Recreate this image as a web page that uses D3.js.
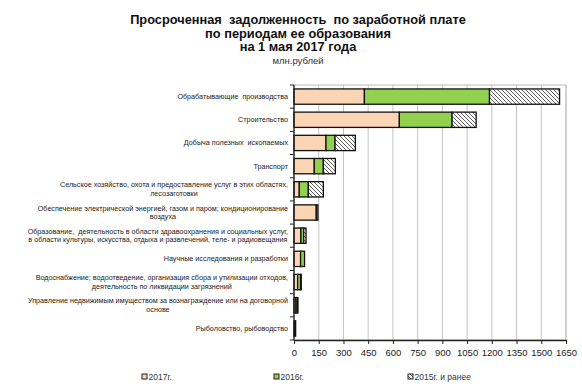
<!DOCTYPE html>
<html>
<head>
<meta charset="utf-8">
<script src="https://cdn.jsdelivr.net/npm/d3@7"></script>
<style>
  body { margin: 0; background: #fff; }
  svg { font-family: "Liberation Sans", Arial, sans-serif; }
  text { white-space: pre; }
</style>
</head>
<body>
<svg id="chart" width="582" height="390"></svg>
<script>
// categories, one entry per bar (lines split by "\n")
const categories = [
  "Обрабатывающие  производства",
  "Строительство",
  "Добыча полезных  ископаемых",
  "Транспорт",
  "Сельское хозяйство, охота и предоставление услуг в этих областях,\nлесозаготовки",
  "Обеспечение электрической энергией, газом и паром; кондиционирование\nвоздуха",
  "Образование,  деятельность в области здравоохранения и социальных услуг,\nв области культуры, искусства, отдыха и развлечений, теле- и радиовещания",
  "Научные исследования и разработки",
  "Водоснабжение; водоотведение, организация сбора и утилизации отходов,\nдеятельность по ликвидации загрязнений",
  "Управление недвижимым имуществом за вознаграждение или на договорной\nоснове",
  "Рыболовство, рыбоводство"
];

const v2017 = [427, 639, 194, 123, 32, 135, 42, 40, 22, 12, 6];
const v2016 = [759, 320, 55, 55, 55, 10, 17, 24, 18, 8, 4];
const v2015 = [425, 146, 123, 73, 91, 0, 14, 0, 4, 4, 0];

const seriesNames = ["2017г.", "2016г.", "2015г. и ранее"];
const xTicks = d3.range(0, 1651, 150);

const svg = d3.select("#chart");
const M = { left: 294, right: 566, top: 85, bottom: 340 };

// pattern for the hatched series
const defs = svg.append("defs");
const pat = defs.append("pattern")
  .attr("id", "hatch")
  .attr("patternUnits", "userSpaceOnUse")
  .attr("width", 4).attr("height", 4);
pat.append("rect").attr("width", 4).attr("height", 4).attr("fill", "#fff");
pat.append("path")
  .attr("d", "M-1,-1 L5,5 M-1,3 L1,5 M3,-1 L5,1")
  .attr("stroke", "#333").attr("stroke-width", 0.8);

const fills = ["#FCD5B5", "#92D050", "url(#hatch)"];

const x = d3.scaleLinear().domain([0, 1650]).range([M.left, M.right]);
const y = d3.scaleBand().domain(d3.range(categories.length))
  .range([M.top, M.bottom]).paddingInner(0.34).paddingOuter(0.17);

// title
const title = svg.append("text").attr("text-anchor", "middle")
  .attr("font-weight", "bold").attr("font-size", 12.8).attr("fill", "#111");
["Просроченная  задолженность  по заработной плате",
 "по периодам ее образования",
 "на 1 мая 2017 года"].forEach((t, i) => {
  title.append("tspan").attr("x", 298).attr("y", 24 + i * 13.5).text(t);
});
svg.append("text").attr("x", 298).attr("y", 64)
  .attr("text-anchor", "middle").attr("font-size", 9.5).attr("fill", "#333")
  .text("млн.рублей");

// plot border + grid
svg.append("rect").attr("x", M.left).attr("y", M.top)
  .attr("width", M.right - M.left).attr("height", M.bottom - M.top)
  .attr("fill", "none").attr("stroke", "#bbb");
svg.append("g").selectAll("line").data(xTicks.slice(1))
  .join("line")
  .attr("x1", d => x(d)).attr("x2", d => x(d))
  .attr("y1", M.top).attr("y2", M.bottom)
  .attr("stroke", "#c4c4c4").attr("stroke-width", 1);

// stacked bars
const rows = categories.map((c, i) => ({ i, vals: [v2017[i], v2016[i], v2015[i]] }));
const stack = d3.stack().keys([0, 1, 2]).value((d, k) => d.vals[k]);
const layers = stack(rows);

svg.append("g").selectAll("g").data(layers).join("g")
  .attr("fill", (d, k) => fills[k])
  .selectAll("rect").data(d => d.filter(s => s[1] > s[0]))
  .join("rect")
  .attr("x", d => x(d[0]))
  .attr("y", d => y(d.data.i))
  .attr("width", d => x(d[1]) - x(d[0]))
  .attr("height", y.bandwidth())
  .attr("stroke", "#111").attr("stroke-width", 1.3);

// x axis
const xAxis = svg.append("g")
  .attr("transform", `translate(0,${M.bottom})`)
  .call(d3.axisBottom(x).tickValues(xTicks).tickSize(4).tickSizeOuter(0).tickFormat(d3.format("d")));
xAxis.select(".domain").attr("stroke", "#222").attr("stroke-width", 1.3);
xAxis.selectAll(".tick line").attr("stroke", "#222");
xAxis.selectAll("text").attr("font-size", 9.5).attr("fill", "#222").attr("dy", "0.9em")
  .attr("font-family", "Liberation Sans, Arial, sans-serif");

// y axis line and boundary ticks
svg.append("line").attr("x1", M.left).attr("x2", M.left)
  .attr("y1", M.top).attr("y2", M.bottom)
  .attr("stroke", "#222").attr("stroke-width", 1.3);
const step = (M.bottom - M.top) / categories.length;
svg.append("g").selectAll("line").data(d3.range(categories.length + 1))
  .join("line")
  .attr("x1", M.left - 4).attr("x2", M.left)
  .attr("y1", d => M.top + d * step).attr("y2", d => M.top + d * step)
  .attr("stroke", "#222");

// category labels: block right-aligned, lines centered
const labelRight = 288;
categories.forEach((c, i) => {
  const lines = c.split("\n");
  const cy = y(i) + y.bandwidth() / 2;
  const g = svg.append("text").attr("font-size", 7.2).attr("fill", "#222")
    .attr("text-anchor", "middle");
  const spans = lines.map((l, j) => g.append("tspan").text(l)
    .attr("y", cy + (j - (lines.length - 1) / 2) * 8.5 + 2.4));
  const w = d3.max(spans, s => s.node().getComputedTextLength());
  spans.forEach(s => s.attr("x", labelRight - w / 2));
});

// legend
const legX = [142, 274, 408];
seriesNames.forEach((n, k) => {
  svg.append("rect").attr("x", legX[k]).attr("y", 374).attr("width", 5).attr("height", 5)
    .attr("fill", fills[k]).attr("stroke", "#222").attr("stroke-width", 1);
  svg.append("text").attr("x", legX[k] + 6.5).attr("y", 380)
    .attr("font-size", 8.5).attr("fill", "#333").text(n);
});
</script>
</body>
</html>
